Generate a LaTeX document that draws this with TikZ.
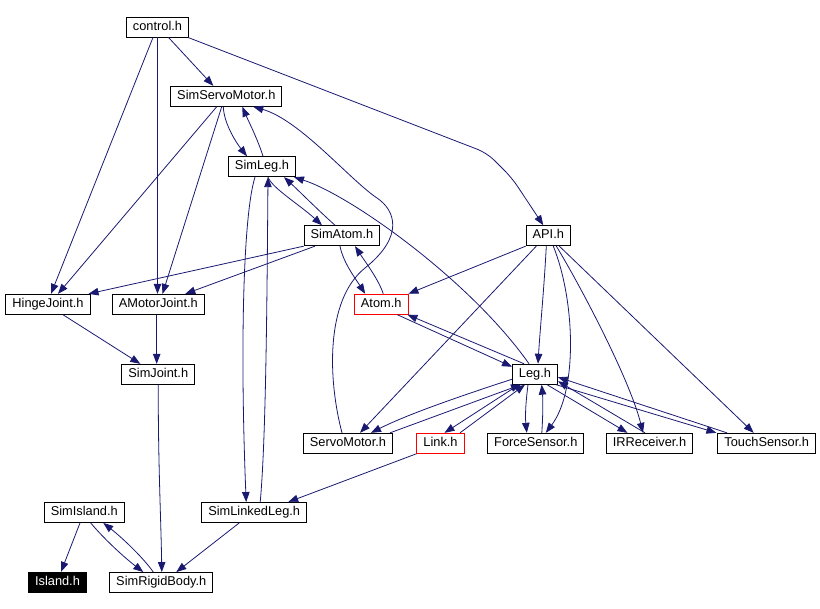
\documentclass[tikz,border=0pt]{standalone}
\usepackage{fontspec}
\setmainfont{Liberation Sans}
\usepackage{tikz}
\usetikzlibrary{arrows.meta,shapes}
\usepackage{xcolor}
\definecolor{dxblue}{RGB}{25,25,112}
\definecolor{dxred}{RGB}{255,0,0}
\tikzstyle{file} = [draw=black, line width=0.9pt, fill=white, inner xsep=6.5pt, inner ysep=0pt, minimum height=20pt, text height=9pt, text depth=2.5pt, font=\fontsize{12.8}{14}\selectfont]
\tikzstyle{redfile} = [file, draw=dxred]
\tikzstyle{topfile} = [file, fill=black, text=white]
\tikzstyle{dep} = [line width=0.8pt, -{Triangle[length=10pt,width=7.5pt]}, color=dxblue]

\begin{document}
\begin{tikzpicture}[x=1pt, y=-1pt]
    \useasboundingbox (0,0) rectangle (820,609);

    % Headers
    \node[file] (control) at (157.5,27) {control.h};
    \node[file] (simservomotor) at (226.3,96.3) {SimServoMotor.h};
    \node[file] (simleg) at (262,166.7) {SimLeg.h};
    \node[file] (simatom) at (342,235.7) {SimAtom.h};
    \node[file] (api) at (548.3,235.7) {API.h};
    \node[file] (hingejoint) at (48,304.3) {HingeJoint.h};
    \node[file] (amotorjoint) at (158.3,304.3) {AMotorJoint.h};
    \node[redfile] (atom) at (381.2,304.2) {Atom.h};
    \node[file] (simjoint) at (158.3,374.3) {SimJoint.h};
    \node[file] (leg) at (535,374.2) {Leg.h};
    \node[file] (servomotor) at (348,443.3) {ServoMotor.h};
    \node[redfile] (link) at (440.5,443.3) {Link.h};
    \node[file] (forcesensor) at (535.8,443.3) {ForceSensor.h};
    \node[file] (irreceiver) at (649.5,443.3) {IRReceiver.h};
    \node[file] (touchsensor) at (766.7,443.3) {TouchSensor.h};
    \node[file] (simisland) at (84.3,512.5) {SimIsland.h};
    \node[file] (simlinkedleg) at (254.2,512.5) {SimLinkedLeg.h};
    \node[topfile] (island) at (57.5,582.3) {Island.h};
    \node[file] (simrigidbody) at (161.3,582.5) {SimRigidBody.h};

    % control.h
    \draw[dep] ([xshift=11pt]control.south) -- ([xshift=-13pt]simservomotor.north);
    \draw[dep] ([xshift=-4.5pt]control.south) -- ([xshift=3pt]hingejoint.north);
    \draw[dep] (control.south) -- ([xshift=-0.8pt]amotorjoint.north);
    \draw[dep, rounded corners=10pt] ([xshift=-1pt]control.south east) -- (487,153) -- (512,178) -- ([xshift=-5pt]api.north);

    % SimServoMotor.h and SimLeg.h
    \draw[dep] ([xshift=-3pt]simservomotor.south) .. controls (224,125) and (238,145) .. ([xshift=-15pt]simleg.north);
    \draw[dep] ([xshift=-9.6pt]simservomotor.south) -- ([xshift=10pt]hingejoint.north);
    \draw[dep] ([xshift=-4.6pt]simservomotor.south) -- ([xshift=4.2pt]amotorjoint.north);
    \draw[dep] ([xshift=1pt]simleg.north) .. controls (258,140) and (248,120) .. ([xshift=16pt]simservomotor.south);
    \draw[dep] ([xshift=6pt]simleg.south) .. controls (272,188) and (300,205) .. ([xshift=-20pt]simatom.north);
    \draw[dep] ([xshift=-7pt]simleg.south) .. controls (243,215) and (240,350) .. ([xshift=-8pt]simlinkedleg.north);
    \draw[dep] ([xshift=6pt]simlinkedleg.north) .. controls (266,440) and (267,300) .. ([xshift=6pt]simleg.south);

    % SimAtom.h and Atom.h
    \draw[dep] (simatom.south west) -- ([xshift=-2pt]hingejoint.north east);
    \draw[dep] ([xshift=-27pt]simatom.south) -- ([xshift=27pt]amotorjoint.north);
    \draw[dep] ([xshift=-7pt]simatom.north) .. controls (318,210) and (298,190) .. ([xshift=22pt]simleg.south);
    \draw[dep] ([xshift=-2pt]simatom.south) .. controls (343,262) and (355,278) .. ([xshift=-16pt]atom.north);
    \draw[dep] ([xshift=2pt]atom.north) .. controls (379,280) and (364,260) .. ([xshift=13pt]simatom.south);
    \draw[dep] ([xshift=16pt]atom.south) -- ([yshift=-3pt]leg.north west);

    % ServoMotor.h up to SimServoMotor.h
    \draw[dep] ([xshift=-6pt]servomotor.north) .. controls (328,380) and (325,300) .. (365,268)
        .. controls (405,236) and (395,210) .. (377,198)
        .. controls (350,180) and (300,120) .. ([xshift=27pt]simservomotor.south);

    % API.h
    \draw[dep] (api.south west) -- (atom.north east);
    \draw[dep] ([xshift=-12pt]api.south) -- ([xshift=12pt]servomotor.north);
    \draw[dep] ([xshift=-2pt]api.south) .. controls (544,290) and (540,330) .. ([xshift=3pt]leg.north);
    \draw[dep] ([xshift=5pt]api.south) .. controls (575,300) and (578,390) .. ([xshift=10pt]forcesensor.north);
    \draw[dep] ([xshift=8pt]api.south) .. controls (580,285) and (630,380) .. ([xshift=-6.5pt]irreceiver.north);
    \draw[dep] ([xshift=11pt]api.south) -- ([xshift=-13pt]touchsensor.north);

    % Leg.h
    \draw[dep] ([xshift=-6pt]leg.north) .. controls (470,280) and (350,195) .. ([xshift=32pt]simleg.south);
    \draw[dep] ([xshift=-11pt]leg.north) -- ([xshift=-1pt]atom.south east);
    \draw[dep] ([yshift=-5pt]leg.west) .. controls (470,393) and (410,413) .. ([xshift=23pt]servomotor.north);
    \draw[dep] ([xshift=-16pt]leg.south) -- ([xshift=4pt]link.north);
    \draw[dep] ([xshift=-7pt]leg.south) .. controls (526,400) and (525,415) .. ([xshift=-9pt]forcesensor.north);
    \draw[dep] ([xshift=12pt]leg.south) -- ([xshift=-22pt]irreceiver.north);
    \draw[dep] ([xshift=-2pt]leg.south east) -- ([xshift=-1pt]touchsensor.north west);
    \draw[dep] ([xshift=42pt]servomotor.north) -- ([xshift=-14pt]leg.south);
    \draw[dep] ([xshift=19.5pt]link.north) -- ([xshift=-10pt]leg.south);
    \draw[dep] ([xshift=6pt]forcesensor.north) .. controls (543,415) and (543,400) .. ([xshift=6.7pt]leg.south);
    \draw[dep] ([xshift=-4.5pt]irreceiver.north) -- ([yshift=-7pt]leg.east);
    \draw[dep] ([xshift=-39.7pt]touchsensor.north) -- ([yshift=-3pt]leg.east);

    % Joints and bodies
    \draw[dep] ([xshift=15pt]hingejoint.south) -- ([xshift=-18pt]simjoint.north);
    \draw[dep] ([xshift=-1.6pt]amotorjoint.south) -- ([xshift=-1.6pt]simjoint.north);
    \draw[dep] (simjoint.south) .. controls (158,460) and (161,520) .. ([xshift=0.5pt]simrigidbody.north);
    \draw[dep] (link.south west) -- ([xshift=34pt]simlinkedleg.north);
    \draw[dep] ([xshift=-15pt]simlinkedleg.south) -- ([xshift=15pt]simrigidbody.north);
    \draw[dep] ([xshift=-4.3pt]simisland.south) -- ([xshift=3.5pt]island.north);
    \draw[dep] ([xshift=6.4pt]simisland.south) .. controls (105,540) and (125,558) .. ([xshift=-18pt]simrigidbody.north);
    \draw[dep] ([xshift=-8pt]simrigidbody.north) .. controls (145,560) and (125,540) .. ([xshift=19pt]simisland.south);
\end{tikzpicture}
\end{document}
